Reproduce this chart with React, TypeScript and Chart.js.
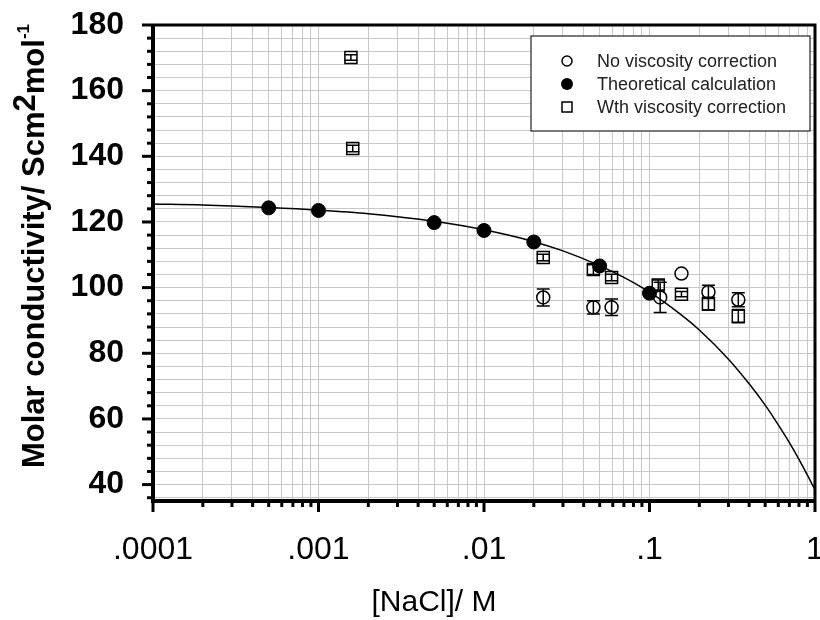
import React, { useEffect, useRef } from 'react';
import { Chart, registerables } from 'chart.js';

Chart.register(...registerables);

// ---------- data ----------
const X_MAJOR = [0.0001, 0.001, 0.01, 0.1, 1];
const X_TICK_LABELS = ['.0001', '.001', '.01', '.1', '1'];
const Y_MIN = 35;
const Y_MAX = 180;
const Y_TICK_STEP = 4;
const Y_LABEL_STEP = 20;

const X_TITLE = '[NaCl]/ M';
const Y_TITLE_MAIN = 'Molar conductivity/ Scm';
const Y_TITLE_SUP1 = '2';
const Y_TITLE_MID = 'mol';
const Y_TITLE_SUP2 = '-1';

const CURVE_X = [0.0001, 0.0002, 0.0005, 0.001, 0.002, 0.005, 0.01, 0.02, 0.03, 0.05, 0.07, 0.1, 0.15, 0.2, 0.3, 0.4, 0.5, 0.6, 0.7, 0.8, 0.9, 1];
const CURVE_Y = [125.5, 125.2, 124.4, 123.6, 122.5, 120.2, 117.6, 114.0, 111.2, 106.7, 103.1, 98.6, 92.3, 87.1, 78.2, 70.7, 64.2, 58.2, 52.8, 47.7, 42.9, 38.4];

const THEORY_X = [0.0005, 0.001, 0.005, 0.01, 0.02, 0.05, 0.1];
const THEORY_Y = [124.3, 123.5, 119.8, 117.4, 113.9, 106.6, 98.3];

const NOVISC_X = [0.0228, 0.0458, 0.059, 0.116, 0.156, 0.227, 0.344];
const NOVISC_Y = [97.0, 94.0, 94.0, 97.0, 104.3, 98.7, 96.3];
const NOVISC_ERR = [2.6, 2.0, 2.5, 4.6, 0, 2.0, 2.1];

const VISC_X = [0.00157, 0.00161, 0.0228, 0.0458, 0.059, 0.113, 0.156, 0.227, 0.344];
const VISC_Y = [170.1, 142.4, 109.2, 105.5, 103.1, 100.8, 98.0, 95.1, 91.3];
const VISC_ERR = [0.8, 1.0, 1.0, 1.5, 1.0, 1.5, 0.8, 2.0, 2.0];

const LABEL_NOVISC = 'No viscosity correction';
const LABEL_THEORY = 'Theoretical calculation';
const LABEL_VISC = 'Wth viscosity correction';

const FONT = "'Liberation Sans', Arial, sans-serif";

function pts(xs: number[], ys: number[]) {
  return xs.map((x, i) => ({ x, y: ys[i] }));
}

function buildXTicks() {
  const t: { value: number }[] = [];
  for (let e = -4; e <= 0; e++) {
    for (let s = 1; s <= 9; s++) {
      const v = parseFloat((s * Math.pow(10, e)).toPrecision(6));
      if (v <= 1.0000001) t.push({ value: v });
      if (e === 0) break;
    }
  }
  return t;
}
function buildYTicks() {
  const t: { value: number }[] = [];
  for (let v = Math.ceil(Y_MIN / Y_TICK_STEP) * Y_TICK_STEP; v <= Y_MAX; v += Y_TICK_STEP) t.push({ value: v });
  return t;
}
function isXMajor(v: number) {
  return X_MAJOR.findIndex((m) => Math.abs(v - m) / m < 1e-6);
}

const ERRORS: Record<string, number[]> = { novisc: NOVISC_ERR, visc: VISC_ERR };

const customPlugin = {
  id: 'customDraw',
  afterDatasetDraw(chart: any, args: any) {
    const ds = chart.data.datasets[args.index];
    const errs = ERRORS[ds.errKey];
    if (!errs) return;
    const ctx = chart.ctx;
    const ys = chart.scales.y;
    ctx.save();
    ctx.strokeStyle = '#000';
    ctx.lineWidth = 1.5;
    args.meta.data.forEach((el: any, i: number) => {
      const e = errs[i];
      if (!e) return;
      const v = ds.data[i].y;
      const yt = ys.getPixelForValue(v + e);
      const yb = ys.getPixelForValue(v - e);
      const hw = 6.5;
      ctx.beginPath();
      ctx.moveTo(el.x, yt);
      ctx.lineTo(el.x, yb);
      ctx.moveTo(el.x - hw, yt);
      ctx.lineTo(el.x + hw, yt);
      ctx.moveTo(el.x - hw, yb);
      ctx.lineTo(el.x + hw, yb);
      ctx.stroke();
    });
    ctx.restore();
  },
  afterDraw(chart: any) {
    const ctx = chart.ctx;
    const a = chart.chartArea;
    const xs = chart.scales.x;
    const ys = chart.scales.y;
    ctx.save();
    // tick marks
    ctx.strokeStyle = '#000';
    ctx.lineWidth = 3;
    ctx.lineCap = 'butt';
    xs.ticks.forEach((t: any) => {
      const px = xs.getPixelForValue(t.value);
      const len = isXMajor(t.value) >= 0 ? 11 : 6;
      ctx.beginPath();
      ctx.moveTo(px, a.bottom);
      ctx.lineTo(px, a.bottom + len);
      ctx.stroke();
    });
    ys.ticks.forEach((t: any) => {
      const py = ys.getPixelForValue(t.value);
      const len = t.value % Y_LABEL_STEP === 0 ? 11 : 6;
      ctx.beginPath();
      ctx.moveTo(a.left, py);
      ctx.lineTo(a.left - len, py);
      ctx.stroke();
    });
    // frame
    ctx.lineWidth = 4;
    ctx.beginPath();
    ctx.moveTo(a.left, a.top);
    ctx.lineTo(a.left, a.bottom);
    ctx.lineTo(a.right, a.bottom);
    ctx.stroke();
    ctx.lineWidth = 3;
    ctx.beginPath();
    ctx.moveTo(a.left, a.top);
    ctx.lineTo(a.right, a.top);
    ctx.lineTo(a.right, a.bottom);
    ctx.stroke();

    // legend
    const lx = 531, ly = 36, lw = 279, lh = 95;
    ctx.fillStyle = '#fff';
    ctx.fillRect(lx, ly, lw, lh);
    ctx.lineWidth = 1.2;
    ctx.strokeStyle = '#222';
    ctx.strokeRect(lx, ly, lw, lh);
    const rows = [
      { label: LABEL_NOVISC, y: 61, kind: 'open' },
      { label: LABEL_THEORY, y: 84, kind: 'filled' },
      { label: LABEL_VISC, y: 107, kind: 'square' },
    ];
    ctx.font = `18px ${FONT}`;
    ctx.textBaseline = 'middle';
    ctx.textAlign = 'left';
    rows.forEach((r) => {
      const mx = 567;
      ctx.strokeStyle = '#000';
      ctx.fillStyle = '#000';
      ctx.lineWidth = 1.5;
      if (r.kind === 'open') {
        ctx.beginPath();
        ctx.arc(mx, r.y, 5, 0, Math.PI * 2);
        ctx.stroke();
      } else if (r.kind === 'filled') {
        ctx.beginPath();
        ctx.arc(mx, r.y, 6, 0, Math.PI * 2);
        ctx.fill();
      } else {
        ctx.strokeRect(mx - 5, r.y - 5, 10, 10);
      }
      ctx.fillStyle = '#222';
      ctx.fillText(r.label, 597, r.y + 1);
    });

    // x title
    ctx.fillStyle = '#000';
    ctx.font = `30px ${FONT}`;
    ctx.textAlign = 'center';
    ctx.textBaseline = 'middle';
    ctx.fillText(X_TITLE, 434, 603);

    // y title (rotated, with superscripts)
    const mainF = `bold 31px ${FONT}`;
    const supF = `bold 31px ${FONT}`;
    const sup2F = `bold 17px ${FONT}`;
    ctx.font = mainF;
    const w1 = ctx.measureText(Y_TITLE_MAIN).width;
    const w3 = ctx.measureText(Y_TITLE_MID).width;
    ctx.font = supF;
    const w2 = ctx.measureText(Y_TITLE_SUP1).width;
    ctx.font = sup2F;
    const w4 = ctx.measureText(Y_TITLE_SUP2).width;
    const total = w1 + w2 + w3 + w4;
    ctx.translate(33, 246);
    ctx.rotate(-Math.PI / 2);
    ctx.textAlign = 'left';
    ctx.textBaseline = 'alphabetic';
    let cx = -total / 2;
    const base = 11;
    ctx.font = mainF;
    ctx.fillText(Y_TITLE_MAIN, cx, base);
    cx += w1;
    ctx.font = supF;
    ctx.fillText(Y_TITLE_SUP1, cx, base - 9);
    cx += w2;
    ctx.font = mainF;
    ctx.fillText(Y_TITLE_MID, cx, base);
    cx += w3;
    ctx.font = sup2F;
    ctx.fillText(Y_TITLE_SUP2, cx, base - 15);
    ctx.restore();
  },
};

function zeroPad(s: any) {
  s.paddingLeft = 0;
  s.paddingRight = 0;
  s.paddingTop = 0;
  s.paddingBottom = 0;
}

export default function App() {
  const ref = useRef<HTMLCanvasElement | null>(null);
  useEffect(() => {
    if (!ref.current) return;
    const chart = new Chart(ref.current, {
      type: 'scatter',
      data: {
        datasets: [
          {
            type: 'line',
            label: 'curve',
            data: pts(CURVE_X, CURVE_Y),
            borderColor: '#000',
            borderWidth: 1.5,
            pointRadius: 0,
            showLine: true,
            fill: false,
            cubicInterpolationMode: 'monotone',
            order: 4,
          } as any,
          {
            label: LABEL_VISC,
            errKey: 'visc',
            data: pts(VISC_X, VISC_Y),
            pointStyle: 'rect',
            pointRadius: 8.5,
            pointBackgroundColor: 'rgba(255,255,255,0)',
            pointBorderColor: '#000',
            pointBorderWidth: 1.5,
            order: 3,
          } as any,
          {
            label: LABEL_NOVISC,
            errKey: 'novisc',
            data: pts(NOVISC_X, NOVISC_Y),
            pointStyle: 'circle',
            pointRadius: 6.5,
            pointBackgroundColor: 'rgba(255,255,255,0)',
            pointBorderColor: '#000',
            pointBorderWidth: 1.5,
            order: 2,
          } as any,
          {
            label: LABEL_THEORY,
            data: pts(THEORY_X, THEORY_Y),
            pointStyle: 'circle',
            pointRadius: 7,
            pointBackgroundColor: '#000',
            pointBorderColor: '#000',
            pointBorderWidth: 1,
            order: 1,
          } as any,
        ],
      },
      options: {
        responsive: false,
        animation: false,
        events: [],
        layout: { autoPadding: false, padding: { top: 25, right: 5, left: 0, bottom: 0 } },
        plugins: { legend: { display: false }, tooltip: { enabled: false }, title: { display: false } },
        scales: {
          x: {
            type: 'logarithmic',
            min: 0.0001,
            max: 1,
            afterBuildTicks: (s: any) => {
              s.ticks = buildXTicks();
            },
            afterFit: (s: any) => {
              s.height = 119;
              zeroPad(s);
            },
            border: { display: false },
            grid: { color: '#c8c8c8', lineWidth: 1, drawTicks: false },
            ticks: {
              autoSkip: false,
              maxRotation: 0,
              padding: 30,
              color: '#000',
              font: { family: FONT, size: 32 },
              callback: (v: any) => {
                const i = isXMajor(Number(v));
                return i >= 0 ? X_TICK_LABELS[i] : '';
              },
            },
          },
          y: {
            type: 'linear',
            min: Y_MIN,
            max: Y_MAX,
            afterBuildTicks: (s: any) => {
              s.ticks = buildYTicks();
            },
            afterFit: (s: any) => {
              s.width = 153;
              zeroPad(s);
            },
            border: { display: false },
            grid: { color: '#c8c8c8', lineWidth: 1, drawTicks: false },
            ticks: {
              autoSkip: false,
              padding: 29,
              color: '#000',
              font: { family: FONT, size: 32, weight: 'bold' },
              callback: (v: any) => (Number(v) % Y_LABEL_STEP === 0 ? String(v) : ''),
            },
          },
        },
      },
      plugins: [customPlugin],
    });
    return () => chart.destroy();
  }, []);
  return (
    <div style={{ position: 'fixed', left: 0, top: 0, width: 820, height: 620, background: '#fff' }}>
      <canvas ref={ref} width={820} height={620} />
    </div>
  );
}
